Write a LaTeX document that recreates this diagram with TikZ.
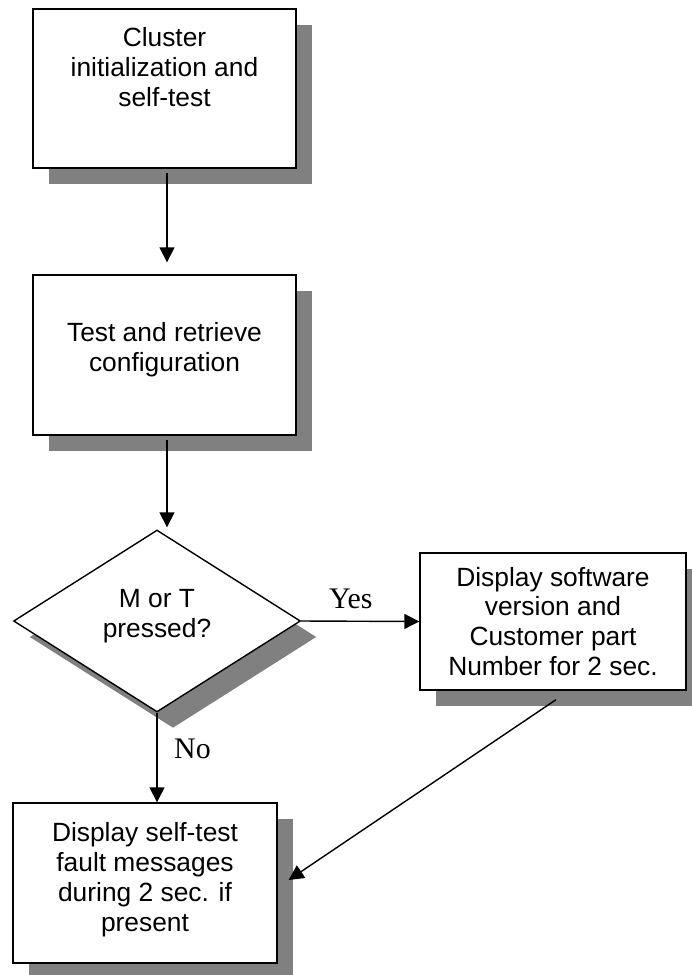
\documentclass[tikz,border=0pt]{standalone}
\usepackage{fontspec}
\setmainfont{Liberation Sans}
\newfontfamily\answerfont{Liberation Serif}
\usetikzlibrary{shapes.geometric, shadows, arrows.meta}

\begin{document}
\begin{tikzpicture}[x = 0.02cm, y = -0.02cm]
        \useasboundingbox (0, 0) rectangle (691, 975);

        \begin{scope}[%
            every node/.style = {%
                draw,
                fill = white,
                line width = 0.8pt,
                align = center,
                inner sep = 0pt,
                font = \fontsize{15}{17}\selectfont,
                drop shadow = {%
                    shadow xshift = 0.32cm,
                    shadow yshift = -0.32cm,
                    fill = gray,
                    opacity = 1
                }
            }
        ]

            % Nodes (steps) of the flowchart.
            \node [minimum width = 5.26cm, minimum height = 3.18cm, text depth = 0.85cm] (init) at (164.5, 88.5) {Cluster\\initialization and\\self-test};
            \node [minimum width = 5.26cm, minimum height = 3.2cm, text depth = 0.31cm] (config) at (164.5, 355) {Test and retrieve\\configuration};
            \node [diamond, minimum width = 5.74cm, minimum height = 3.64cm, text depth = 0.31cm] (pressed) at (157, 621) {M or T\\pressed?};
            \node [minimum width = 5.32cm, minimum height = 2.74cm] (software) at (553, 621.5) {Display software\\version and\\Customer part\\Number for 2 sec.};
            \node [minimum width = 5.28cm, minimum height = 3.2cm, text depth = 0.25cm] (fault) at (145, 883) {Display self-test\\fault messages\\during 2 sec. if\\present};
        \end{scope}

        \begin{scope}[%
            > = {Triangle[length = 0.3cm, width = 0.3cm]},
            line width = 0.8pt,
            every node/.style = {%
                inner sep = 0pt,
                font = \answerfont\fontsize{17}{20}\selectfont
            }
        ]

            % Connectors of the flowchart.
            \draw [->, shorten <= 0.08cm, shorten >= 0.24cm] ([xshift = 0.05cm]init.south) -- ([xshift = 0.05cm]config.north);
            \draw [->, shorten <= 0.08cm, shorten >= 0.04cm] ([xshift = 0.05cm]config.south) -- ([xshift = 0.05cm]config.south |- pressed.north);
            \draw [->] (pressed.east) -- node [above = 0.24cm, pos = 0.42] {Yes} (software.west);
            \draw [->] (pressed.south) -- node [right = 0.33cm, pos = 0.4] {No} (pressed.south |- fault.north);
            \draw [->] ([xshift = 0.06cm, yshift = -0.18cm]software.south) -- ([xshift = 0.22cm, yshift = 0.06cm]fault.east);
        \end{scope}
    \end{tikzpicture}
\end{document}
